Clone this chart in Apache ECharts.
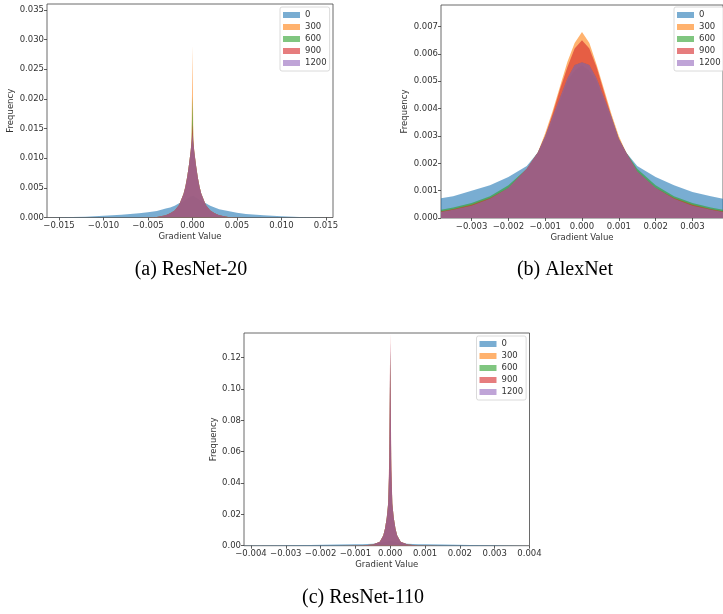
<!DOCTYPE html>
<html>
<head>
<meta charset="utf-8">
<script src="https://cdn.jsdelivr.net/npm/echarts@6/dist/echarts.min.js"></script>
<style>html,body{margin:0;padding:0;background:#fff}#main{width:723px;height:614px}</style>
</head>
<body>
<div id="main"></div>
<script>
// legend names (training iteration) and matplotlib tab colours at alpha .6
var names = ['0', '300', '600', '900', '1200'];
var colors = ['rgba(31,119,180,0.6)', 'rgba(255,127,14,0.6)', 'rgba(44,160,44,0.6)', 'rgba(214,39,40,0.6)', 'rgba(148,103,189,0.6)'];

// (a) ResNet-20
var xa = [-0.0164, -0.015, -0.012, -0.010, -0.008, -0.006, -0.005, -0.004, -0.003, -0.0025, -0.002, -0.0015, -0.001, -0.0008, -0.0006, -0.0004, -0.0002, -0.0001, 0, 0.0001, 0.0002, 0.0004, 0.0006, 0.0008, 0.001, 0.0015, 0.002, 0.0025, 0.003, 0.004, 0.005, 0.006, 0.008, 0.010, 0.012, 0.015, 0.0158];
var a0 = [0, 0.00003, 0.00012, 0.00028, 0.00045, 0.0007, 0.0009, 0.0011, 0.0015, 0.0017, 0.002, 0.0024, 0.0028, 0.003, 0.0032, 0.0034, 0.0036, 0.0037, 0.0038, 0.0037, 0.0036, 0.0034, 0.0032, 0.003, 0.0028, 0.0024, 0.002, 0.0017, 0.0014, 0.0011, 0.0008, 0.0006, 0.0004, 0.00022, 0.0001, 0.00002, 0];
var a300 = [0, 0, 0, 0, 0, 0, 0.00005, 0.0001, 0.0004, 0.0007, 0.0012, 0.0021, 0.004, 0.0052, 0.0068, 0.0088, 0.0112, 0.0135, 0.029, 0.0135, 0.0112, 0.0088, 0.0068, 0.0052, 0.004, 0.0021, 0.0012, 0.0007, 0.0004, 0.0001, 0.00005, 0, 0, 0, 0, 0, 0];
var a600 = [0, 0, 0, 0, 0, 0, 0.00005, 0.0001, 0.0004, 0.0007, 0.0012, 0.0021, 0.004, 0.0052, 0.0068, 0.0088, 0.0112, 0.013, 0.0205, 0.013, 0.0112, 0.0088, 0.0068, 0.0052, 0.004, 0.0021, 0.0012, 0.0007, 0.0004, 0.0001, 0.00005, 0, 0, 0, 0, 0, 0];
var a900 = [0, 0, 0, 0, 0, 0, 0.00005, 0.0001, 0.0004, 0.0007, 0.0012, 0.0021, 0.004, 0.0052, 0.0068, 0.0088, 0.0112, 0.0128, 0.0158, 0.0128, 0.0112, 0.0088, 0.0068, 0.0052, 0.004, 0.0021, 0.0012, 0.0007, 0.0004, 0.0001, 0.00005, 0, 0, 0, 0, 0, 0];
var a1200 = [0, 0, 0, 0, 0, 0, 0.00005, 0.0001, 0.0004, 0.0007, 0.0012, 0.0021, 0.004, 0.0052, 0.0068, 0.0088, 0.0112, 0.0126, 0.0142, 0.0126, 0.0112, 0.0088, 0.0068, 0.0052, 0.004, 0.0021, 0.0012, 0.0007, 0.0004, 0.0001, 0.00005, 0, 0, 0, 0, 0, 0];

// (b) AlexNet
var xb = [-0.00383, -0.0035, -0.003, -0.0025, -0.002, -0.0015, -0.0012, -0.001, -0.0008, -0.0006, -0.0004, -0.0002, 0, 0.0002, 0.0004, 0.0006, 0.0008, 0.001, 0.0012, 0.0015, 0.002, 0.0025, 0.003, 0.0035, 0.00383];
var b0 = [0.00072, 0.0008, 0.001, 0.0012, 0.0015, 0.0019, 0.0024, 0.0029, 0.0036, 0.0043, 0.005, 0.0054, 0.0056, 0.0054, 0.005, 0.0043, 0.0036, 0.0029, 0.0024, 0.0019, 0.0015, 0.0012, 0.00095, 0.0008, 0.0007];
var b300 = [0.00025, 0.00033, 0.0005, 0.00074, 0.0011, 0.0018, 0.0024, 0.0031, 0.0039, 0.0048, 0.0057, 0.0064, 0.0068, 0.0064, 0.0056, 0.0047, 0.0038, 0.003, 0.0024, 0.0017, 0.0011, 0.00074, 0.0005, 0.00033, 0.00025];
var b600 = [0.0003, 0.00038, 0.00055, 0.0008, 0.0012, 0.0018, 0.0024, 0.003, 0.0037, 0.0044, 0.0051, 0.0056, 0.0057, 0.0056, 0.0051, 0.0044, 0.0037, 0.0029, 0.0024, 0.0018, 0.0012, 0.0008, 0.00055, 0.00038, 0.0003];
var b900 = [0.00024, 0.00032, 0.00048, 0.00072, 0.0011, 0.0018, 0.0024, 0.003, 0.0038, 0.0047, 0.0055, 0.0062, 0.0065, 0.0062, 0.0055, 0.0046, 0.0037, 0.0029, 0.0024, 0.0017, 0.0011, 0.00072, 0.00048, 0.00032, 0.00024];
var b1200 = [0.00022, 0.0003, 0.00045, 0.0007, 0.0011, 0.0018, 0.0024, 0.003, 0.0037, 0.0044, 0.0051, 0.0056, 0.0057, 0.0056, 0.0051, 0.0044, 0.0037, 0.0029, 0.0024, 0.0017, 0.0011, 0.0007, 0.00045, 0.0003, 0.00022];

// (c) ResNet-110
var xc = [-0.0042, -0.003, -0.0023, -0.0015, -0.001, -0.0008, -0.0005, -0.0003, -0.0002, -0.00015, -0.0001, -0.00006, -0.00003, 0, 0.00003, 0.00006, 0.0001, 0.00015, 0.0002, 0.0003, 0.0005, 0.0008, 0.001, 0.0015, 0.0023, 0.003, 0.004];
var c0 = [0.0001, 0.0003, 0.0005, 0.0007, 0.0009, 0.001, 0.0013, 0.0018, 0.0022, 0.0025, 0.0028, 0.003, 0.0032, 0.0033, 0.0032, 0.003, 0.0028, 0.0025, 0.0022, 0.0018, 0.0013, 0.001, 0.0009, 0.0007, 0.0005, 0.0003, 0.0001];
var c300 = [0, 0, 0, 0.00002, 0.0001, 0.0002, 0.0008, 0.0025, 0.0065, 0.011, 0.018, 0.027, 0.047, 0.12, 0.047, 0.027, 0.018, 0.011, 0.0065, 0.0025, 0.0008, 0.0002, 0.0001, 0.00002, 0, 0, 0];
var c600 = [0, 0, 0, 0.00002, 0.0001, 0.0002, 0.0008, 0.0025, 0.0065, 0.011, 0.018, 0.027, 0.048, 0.125, 0.048, 0.027, 0.018, 0.011, 0.0065, 0.0025, 0.0008, 0.0002, 0.0001, 0.00002, 0, 0, 0];
var c900 = [0, 0, 0, 0.00002, 0.0001, 0.0002, 0.0008, 0.0025, 0.0065, 0.011, 0.018, 0.027, 0.055, 0.136, 0.055, 0.027, 0.018, 0.011, 0.0065, 0.0025, 0.0008, 0.0002, 0.0001, 0.00002, 0, 0, 0];
var c1200 = [0, 0, 0, 0.00002, 0.0001, 0.0002, 0.0008, 0.0025, 0.0065, 0.011, 0.018, 0.027, 0.05, 0.13, 0.05, 0.027, 0.018, 0.011, 0.0065, 0.0025, 0.0008, 0.0002, 0.0001, 0.00002, 0, 0, 0];

// tick labels
var tickAx = [-0.015, -0.010, -0.005, 0, 0.005, 0.010, 0.015];
var tickAy = [0, 0.005, 0.010, 0.015, 0.020, 0.025, 0.030, 0.035];
var tickBx = [-0.003, -0.002, -0.001, 0, 0.001, 0.002, 0.003];
var tickBy = [0, 0.001, 0.002, 0.003, 0.004, 0.005, 0.006, 0.007];
var tickCx = [-0.004, -0.003, -0.002, -0.001, 0, 0.001, 0.002, 0.003, 0.004];
var tickCy = [0, 0.02, 0.04, 0.06, 0.08, 0.10, 0.12];

var captions = ['(a) ResNet-20', '(b) AlexNet', '(c) ResNet-110'];

var myChart = echarts.init(document.getElementById('main'));

var txt = '#333';
var fs = 8.5;
var font = 'DejaVu Sans';

function fmt(d) {
  return function (v) { return (v < 0 ? '\u2212' : '') + Math.abs(v).toFixed(d); };
}

function xAx(i, min, max, ticks, d) {
  return {
    type: 'value', gridIndex: i, min: min, max: max,
    name: 'Gradient Value', nameLocation: 'middle', nameGap: 15,
    nameTextStyle: { fontSize: fs, color: txt, fontFamily: font },
    axisLine: { show: false, onZero: false },
    splitLine: { show: false },
    axisTick: { show: true, length: 3, customValues: ticks, lineStyle: { color: '#333', width: 0.8 } },
    axisLabel: { customValues: ticks, formatter: fmt(d), fontSize: fs, color: txt, fontFamily: font, margin: 4 }
  };
}

function yAx(i, max, ticks, d, gap) {
  return {
    type: 'value', gridIndex: i, min: 0, max: max,
    name: 'Frequency', nameLocation: 'middle', nameGap: gap,
    nameTextStyle: { fontSize: fs, color: txt, fontFamily: font },
    axisLine: { show: false, onZero: false },
    splitLine: { show: false },
    axisTick: { show: true, length: 3, customValues: ticks, lineStyle: { color: '#333', width: 0.8 } },
    axisLabel: { customValues: ticks, formatter: fmt(d), fontSize: fs, color: txt, fontFamily: font, margin: 3 }
  };
}

function hist(i, xs, ys, k) {
  return {
    type: 'line', name: names[k], xAxisIndex: i, yAxisIndex: i,
    data: xs.map(function (x, j) { return [x, ys[j]]; }),
    symbol: 'none', showSymbol: false, silent: true,
    lineStyle: { width: 0, color: colors[k] },
    itemStyle: { color: colors[k] },
    areaStyle: { color: colors[k], opacity: 1 }
  };
}

function leg(left, top) {
  return {
    orient: 'vertical', left: left, top: top, icon: 'rect',
    itemWidth: 17, itemHeight: 6, itemGap: 2, padding: 3,
    borderColor: '#d0d0d0', borderWidth: 0.8, borderRadius: 2,
    backgroundColor: 'rgba(255,255,255,0.8)',
    selectedMode: false,
    textStyle: { fontSize: fs, color: txt, fontFamily: font, lineHeight: 10 },
    data: names.map(function (n, k) { return { name: n, itemStyle: { color: colors[k] } }; })
  };
}

var sa = [a0, a300, a600, a900, a1200];
var sb = [b0, b300, b600, b900, b1200];
var sc = [c0, c300, c600, c900, c1200];
var series = [];
sa.forEach(function (ys, k) { series.push(hist(0, xa, ys, k)); });
sb.forEach(function (ys, k) { series.push(hist(1, xb, ys, k)); });
sc.forEach(function (ys, k) { series.push(hist(2, xc, ys, k)); });

var capStyle = { fontSize: 20, fontFamily: 'Liberation Serif', fill: '#000' };

myChart.setOption({
  animation: false,
  grid: [
    { left: 47, top: 4, width: 286, height: 213.5, show: true, borderColor: '#444', borderWidth: 0.8 },
    { left: 441, top: 5, width: 301, height: 213, show: true, borderColor: '#444', borderWidth: 0.8 },
    { left: 244, top: 333, width: 285.5, height: 212.7, show: true, borderColor: '#444', borderWidth: 0.8 }
  ],
  xAxis: [
    xAx(0, -0.01635, 0.0158, tickAx, 3),
    xAx(1, -0.00383, 0.00383, tickBx, 3),
    xAx(2, -0.0042, 0.0040, tickCx, 3)
  ],
  yAxis: [
    yAx(0, 0.036, tickAy, 3, 30),
    yAx(1, 0.00779, tickBy, 3, 30),
    yAx(2, 0.1358, tickCy, 2, 25)
  ],
  legend: [leg(280, 7), leg(674, 7), leg(476.5, 336)],
  series: series,
  graphic: [
    { type: 'text', style: Object.assign({ text: captions[0], x: 191, y: 270, align: 'center', verticalAlign: 'middle' }, capStyle) },
    { type: 'text', style: Object.assign({ text: captions[1], x: 565, y: 270, align: 'center', verticalAlign: 'middle' }, capStyle) },
    { type: 'text', style: Object.assign({ text: captions[2], x: 363, y: 598, align: 'center', verticalAlign: 'middle' }, capStyle) }
  ]
});
</script>
</body>
</html>
